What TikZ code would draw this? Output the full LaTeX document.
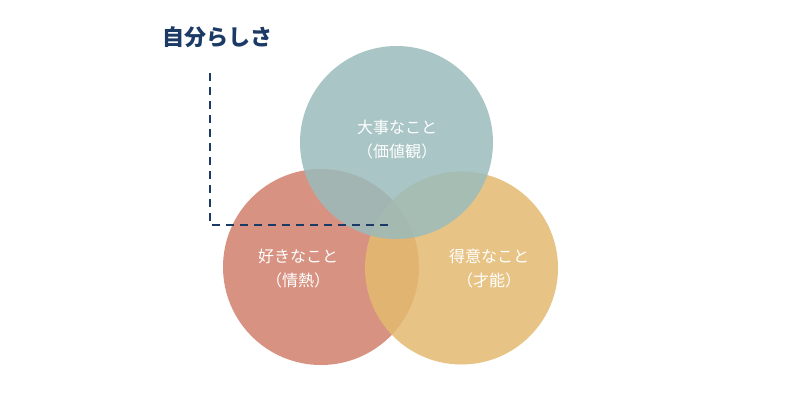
\documentclass[tikz,border=0pt]{standalone}
\usepackage{fontspec}
\newfontfamily\jp{Noto Sans CJK JP}
\definecolor{topc}{HTML}{9ABCBB}
\definecolor{leftc}{HTML}{D1806D}
\definecolor{rightc}{HTML}{E3BA70}
\definecolor{navy}{HTML}{1B3A66}
\tikzset{
  venn/.style={circle, minimum size=#1, inner sep=0pt, fill opacity=0.85, draw=none},
  lbl/.style={text=white, font=\jp\fontsize{16}{24}\selectfont, align=center, text opacity=1},
  guide/.style={draw=navy, line width=2.8pt, dash pattern=on 8pt off 6pt}
}
\begin{document}
\begin{tikzpicture}[x=1pt,y=-1pt]
\useasboundingbox[fill=white] (0,0) rectangle (800,400);
\node[venn=196pt, fill=leftc] (like) at (321,267) {};
\node[venn=193pt, fill=rightc] (good) at (461.5,268) {};
\node[venn=193pt, fill=topc] (value) at (396.5,142.5) {};
\node[lbl] (tvalue) at (397,140) {大事なこと\\（価値観）};
\node[lbl] (tlike) at (298,268.5) {好きなこと\\（情熱）};
\node[lbl] (tgood) at (489,268.5) {得意なこと\\（才能）};
\node[text=navy, font=\jp\bfseries\fontsize{22}{26}\selectfont, anchor=center] (title) at (217,37) {自分らしさ};
\coordinate (gtop) at (210,73);
\coordinate (gcorner) at (210,225);
\coordinate (gend) at (390,225);
\draw[guide] (gtop) -- (gcorner) -- (gend);
\end{tikzpicture}
\end{document}
